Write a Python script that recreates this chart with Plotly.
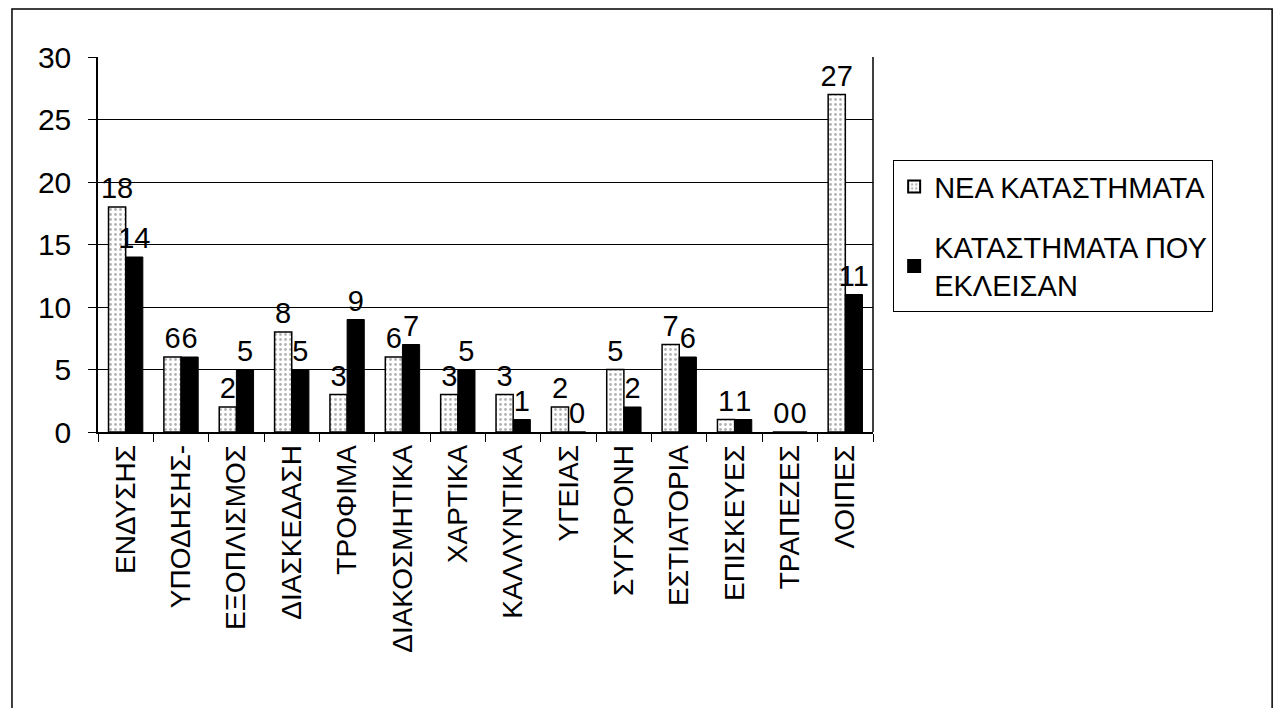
import plotly.graph_objects as go

categories = ["ΕΝΔΥΣΗΣ", "ΥΠΟΔΗΣΗΣ-", "ΕΞΟΠΛΙΣΜΟΣ", "ΔΙΑΣΚΕΔΑΣΗ", "ΤΡΟΦΙΜΑ",
              "ΔΙΑΚΟΣΜΗΤΙΚΑ", "ΧΑΡΤΙΚΑ", "ΚΑΛΛΥΝΤΙΚΑ", "ΥΓΕΙΑΣ", "ΣΥΓΧΡΟΝΗ",
              "ΕΣΤΙΑΤΟΡΙΑ", "ΕΠΙΣΚΕΥΕΣ", "ΤΡΑΠΕΖΕΣ", "ΛΟΙΠΕΣ"]
new_stores = [18, 6, 2, 8, 3, 6, 3, 3, 2, 5, 7, 1, 0, 27]
closed_stores = [14, 6, 5, 5, 9, 7, 5, 1, 0, 2, 6, 1, 0, 11]
series_names = ["ΝΕΑ ΚΑΤΑΣΤΗΜΑΤΑ", "ΚΑΤΑΣΤΗΜΑΤΑ ΠΟΥ<br>ΕΚΛΕΙΣΑΝ"]
y_ticks = [0, 5, 10, 15, 20, 25, 30]

FONT = "Liberation Sans, Arial, sans-serif"

fig = go.Figure()
fig.add_trace(go.Bar(
    x=categories, y=new_stores, name=series_names[0], legendgroup="a",
    text=[str(v) for v in new_stores], textposition="outside",
    textfont=dict(size=29, color="black", family=FONT),
    cliponaxis=False,
    marker=dict(color="white", line=dict(color="black", width=1.5),
                pattern=dict(shape=".", fgcolor="#666666", bgcolor="white",
                             size=5, solidity=0.25)),
))
fig.add_trace(go.Bar(
    x=categories, y=closed_stores, name=series_names[1], legendgroup="b",
    text=[str(v) for v in closed_stores], textposition="outside",
    textfont=dict(size=29, color="black", family=FONT),
    cliponaxis=False,
    marker=dict(color="black", line=dict(color="black", width=1)),
))

fig.update_layout(
    width=1266, height=700,
    margin=dict(l=90, r=401, t=49, b=276),
    paper_bgcolor="white", plot_bgcolor="white",
    font=dict(family=FONT, color="black", size=20),
    barmode="group", bargap=0.38, bargroupgap=0,
    uniformtext=dict(minsize=29, mode="show"),
    showlegend=True,
    legend=dict(x=1.026, y=0.725, xanchor="left", yanchor="top",
                bordercolor="black", borderwidth=1, bgcolor="white",
                font=dict(size=29, family=FONT, color="black"),
                tracegroupgap=20, itemsizing="constant", itemwidth=30,
                traceorder="grouped"),
    xaxis=dict(type="category", tickangle=-90, tickfont=dict(size=28, family=FONT),
               showline=True, linecolor="black", linewidth=1.5,
               ticks="outside", ticklen=8, tickcolor="black", tickson="boundaries",
               showgrid=False, mirror=False),
    yaxis=dict(range=[0, 30], tickvals=y_ticks, tickfont=dict(size=30, family=FONT),
               showline=True, linecolor="black", linewidth=1.5,
               ticks="outside", ticklen=8, tickcolor="black",
               showgrid=True, gridcolor="black", gridwidth=1,
               ticklabelstandoff=11, zeroline=False),
    shapes=[
        dict(type="line", xref="paper", yref="paper", x0=1, x1=1, y0=0, y1=1,
             line=dict(color="black", width=1.5)),
        dict(type="rect", xref="paper", yref="paper", x0=-0.111, x1=1.515,
             y0=-0.78, y1=1.128, line=dict(color="black", width=1.5),
             fillcolor="rgba(0,0,0,0)", layer="below"),
    ],
)

fig.write_html("out.html")
